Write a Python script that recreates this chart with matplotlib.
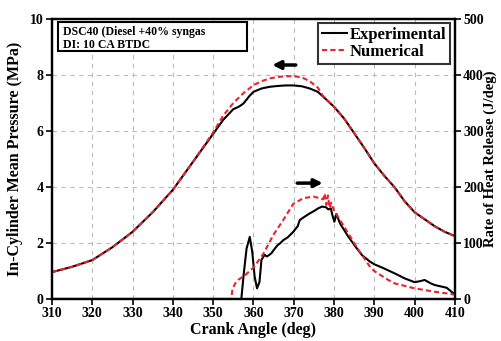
import numpy as np
import matplotlib
matplotlib.use("Agg")
import matplotlib.pyplot as plt
from matplotlib.patches import Rectangle

# cylinder pressure (MPa)
ca_p_exp = [310, 315, 320, 325, 330, 335, 340, 345, 350, 352.5, 355, 356.5, 357.5, 359, 360, 362, 364, 366, 368, 370, 372, 374, 376, 377.3, 380, 382.5, 385, 387.5, 390, 392.5, 395, 397.5, 400, 402.5, 405, 407.5, 410]
p_exp = [0.96, 1.15, 1.39, 1.85, 2.4, 3.1, 3.9, 4.9, 5.9, 6.4, 6.78, 6.88, 6.98, 7.25, 7.4, 7.52, 7.58, 7.61, 7.63, 7.63, 7.6, 7.52, 7.4, 7.23, 6.87, 6.45, 5.93, 5.4, 4.85, 4.4, 4.0, 3.5, 3.1, 2.85, 2.6, 2.4, 2.25]
ca_p_num = [310, 315, 320, 325, 330, 335, 340, 345, 350, 352.5, 355, 357.5, 360, 362, 364, 366, 368, 370, 372, 374, 376, 377.3, 380, 382.5, 385, 387.5, 390, 392.5, 395, 397.5, 400, 402.5, 405, 407.5, 410]
p_num = [0.96, 1.15, 1.39, 1.85, 2.4, 3.1, 3.9, 4.9, 5.95, 6.55, 7.0, 7.35, 7.64, 7.78, 7.88, 7.93, 7.96, 7.96, 7.92, 7.78, 7.55, 7.25, 6.87, 6.45, 5.93, 5.4, 4.85, 4.4, 4.0, 3.5, 3.1, 2.85, 2.6, 2.4, 2.25]

# heat release rate (J/deg)
ca_h_exp = [310, 357.0, 357.6, 358.3, 359.1, 359.7, 360.3, 360.9, 361.5, 362.0, 362.8, 363.3, 363.8, 364.5, 365.3, 366.0, 366.7, 367.4, 368.5, 369.9, 371.0, 371.5, 372.5, 374.0, 375.0, 376.1, 377.0, 378.0, 378.6, 379.2, 379.6, 380.1, 380.6, 381.5, 383.5, 385.6, 387.0, 388.9, 390.0, 392.0, 395.0, 397.5, 400.0, 401.5, 402.5, 404.0, 405.0, 408.0, 410.0]
h_exp = [0, 0, 45, 90, 111, 85, 40, 19, 30, 70, 79, 76, 78, 82, 90, 96, 100, 105, 110, 120, 130, 141, 146, 153, 157, 162, 165, 164, 160, 162, 150, 138, 152, 135, 112, 91, 78, 67, 62, 56, 46, 37, 30, 32, 34, 28, 25, 20, 8]
ca_h_num = [310, 354.5, 354.8, 355.5, 356.2, 358, 360, 362.5, 365, 367.4, 369.9, 372.4, 374.9, 376.5, 377.3, 377.7, 378.1, 378.5, 378.9, 379.3, 380, 382.3, 385.6, 388.9, 390, 393, 395, 400, 405, 410]
h_num = [0, 0, 18, 28, 34, 43, 56, 81, 115, 141, 170, 180, 183, 180, 178, 188, 168, 185, 163, 172, 158, 132, 93, 58, 50, 36, 28, 19, 13, 8]

plt.rcParams['font.family'] = ['Liberation Serif', 'DejaVu Serif']
plt.rcParams['font.weight'] = 'bold'

fig = plt.figure(figsize=(5.02, 3.41), dpi=100)
ax1 = fig.add_axes([0.1036, 0.1232, 0.8024, 0.8208])
ax2 = ax1.twinx()

red = "#e8232b"
ax1.plot(ca_p_exp, p_exp, color="black", lw=1.5, label="Experimental")
ax1.plot(ca_p_num, p_num, color=red, lw=1.5, ls=(0, (2.5, 1.5)), label="Numerical")
ax2.plot(ca_h_exp, h_exp, color="black", lw=1.5)
ax2.plot(ca_h_num, h_num, color=red, lw=1.5, ls=(0, (2.5, 1.5)))

ax1.set_xlim(310, 410)
ax1.set_ylim(0, 10)
ax2.set_ylim(0, 500)
ax1.set_xticks(np.arange(310, 411, 10))
ax1.set_yticks(np.arange(0, 11, 2))
ax2.set_yticks(np.arange(0, 501, 100))
ax1.grid(True, ls=(0, (4, 4)), color="#bbbbbb", lw=0.8)

for ax in (ax1, ax2):
    ax.tick_params(labelsize=10, width=1.2, length=4, pad=2)
    for s in ax.spines.values():
        s.set_linewidth(1.6)
    for lab in ax.get_xticklabels() + ax.get_yticklabels():
        lab.set_fontweight("bold")

ax1.set_xlabel("Crank Angle (deg)", fontsize=11.5, fontweight="bold", labelpad=1)
ax1.set_ylabel("In-Cylinder Mean Pressure (MPa)", fontsize=11.5, fontweight="bold", labelpad=5)
ax2.set_ylabel("Rate of Heat Release (J/deg)", fontsize=10.5, fontweight="bold", labelpad=0)

leg = ax1.legend(loc="upper right", bbox_to_anchor=(0.988, 0.985), fontsize=12, frameon=True,
                 fancybox=False, edgecolor="black", handlelength=1.5, handletextpad=0.2,
                 borderpad=0.2, labelspacing=0.1, borderaxespad=0)
leg.get_frame().set_linewidth(1.5)
for t in leg.get_texts():
    t.set_fontweight("bold")

ax1.add_patch(Rectangle((0.015, 0.886), 0.469, 0.103, transform=ax1.transAxes,
                        fc="white", ec="black", lw=1.5, zorder=4))
ax1.text(0.027, 0.975, "DSC40 (Diesel +40% syngas\nDI: 10 CA BTDC", transform=ax1.transAxes,
         fontsize=8.5, fontweight="bold", va="top", ha="left", linespacing=1.15, zorder=5)

ax1.annotate("", xy=(364.0, 8.36), xytext=(371.2, 8.36),
             arrowprops=dict(arrowstyle="-|>", color="black", lw=2.5, mutation_scale=12))
ax1.annotate("", xy=(377.9, 4.14), xytext=(370.2, 4.14),
             arrowprops=dict(arrowstyle="-|>", color="black", lw=2.5, mutation_scale=12))

fig.savefig("out.png", dpi=100)
